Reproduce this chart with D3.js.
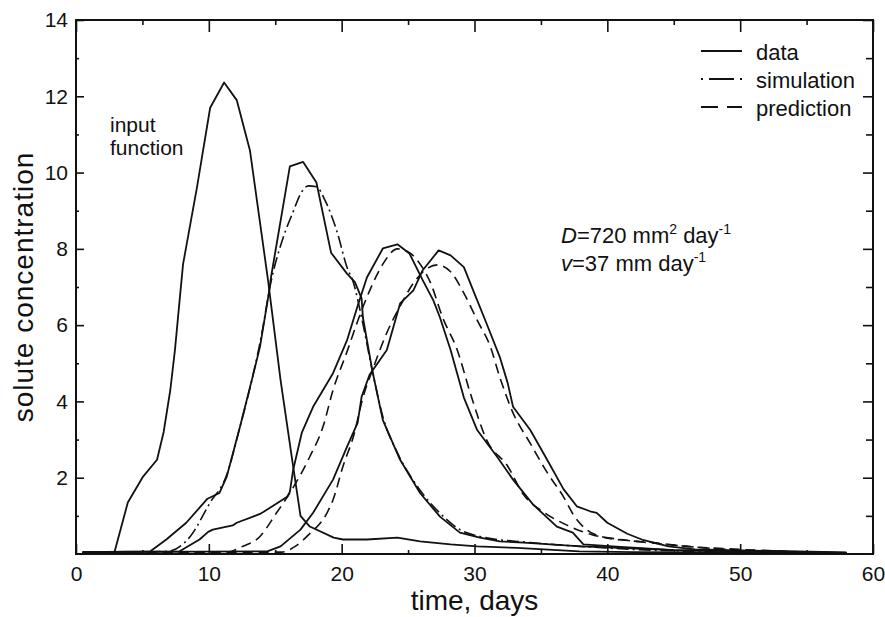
<!DOCTYPE html>
<html>
<head>
<meta charset="utf-8">
<script src="https://cdn.jsdelivr.net/npm/d3@7"></script>
<style>
  body { margin: 0; background: #fff; }
  svg { font-family: "Liberation Sans", Arial, Helvetica, sans-serif; }
  .tick text { font-size: 21px; fill: #111; }
</style>
</head>
<body>
<script>
// breakthrough curves as [day, concentration]
var inputData = [[0.5,0.05],[2.9,0.05],[3.9,1.35],[5.05,2.03],[6.1,2.47],[6.6,3.2],[7.1,4.3],[7.45,5.35],[7.8,6.65],[8.06,7.6],[9.1,9.6],[10.1,11.7],[11.15,12.36],[12.1,11.9],[13.1,10.57],[14.46,7.17],[15.4,4.56],[16.35,2.29],[16.9,1.0],[17.6,0.72],[19.4,0.43],[20.1,0.38],[21.9,0.38],[24.2,0.43],[25.9,0.33],[28.2,0.25],[30.2,0.2],[33.2,0.16],[37.9,0.07],[42,0.05],[58,0.03]];

var data1 = [[0.5,0.05],[5.6,0.07],[6.8,0.38],[8.3,0.82],[9.9,1.45],[10.8,1.6],[11.35,2.03],[12.35,3.34],[13.3,4.65],[13.85,5.43],[14.5,6.8],[14.7,7.3],[16.1,10.16],[17.1,10.28],[18.1,9.74],[19.2,7.9],[20.4,7.35],[21.0,7.13],[21.5,6.7],[21.6,6.2],[22.3,4.82],[23.1,3.51],[24.4,2.47],[25.9,1.6],[27.4,0.98],[28.9,0.56],[30.4,0.43],[31.9,0.33],[33.7,0.3],[38,0.2],[40.4,0.17],[45,0.1],[58,0.03]];

var sim1 = [[0.5,0.03],[6.9,0.07],[8.6,0.46],[10.1,1.35],[11.3,2.03],[12.35,3.34],[13.3,4.65],[14.0,5.8],[14.6,7.0],[15.6,8.3],[16.3,8.93],[17.0,9.5],[17.5,9.65],[18.1,9.63],[18.75,9.27],[19.65,8.45],[20.4,7.52],[20.9,7.1],[21.5,6.2],[22.3,4.82],[23.1,3.6],[24.2,2.65],[25.7,1.77],[27.4,1.07],[28.9,0.64],[30.4,0.46],[34.2,0.3],[38,0.2],[42,0.12],[48,0.06],[58,0.03]];

var data2 = [[0.5,0.05],[7.8,0.07],[9.3,0.38],[9.95,0.58],[10.3,0.64],[11.8,0.75],[12.1,0.82],[13.85,1.05],[14.1,1.1],[15.9,1.5],[16.1,1.63],[16.35,2.21],[17.0,3.18],[17.85,3.86],[19.35,4.74],[20.4,5.6],[21.2,6.5],[21.9,7.25],[23.1,8.01],[24.2,8.12],[25.1,7.88],[26.1,7.18],[26.9,6.65],[27.4,6.2],[28.2,5.35],[29.2,4.1],[30.2,3.25],[31.7,2.55],[32.9,1.95],[34.4,1.3],[36.2,0.72],[37.4,0.56],[38.2,0.25],[40.4,0.2],[45,0.1],[58,0.03]];

var pred2 = [[0.5,0.02],[11.5,0.05],[12.35,0.17],[13.85,0.46],[15.1,1.08],[16.1,1.6],[17.6,2.55],[18.6,3.34],[19.35,4.3],[20.4,5.3],[21.2,6.1],[22.1,6.9],[23.1,7.6],[24.2,8.0],[25.1,7.9],[26.1,7.5],[26.7,7.1],[27.6,6.2],[28.7,5.35],[29.7,4.2],[30.9,3.0],[32.5,2.3],[33.7,1.55],[35.2,1.1],[37,0.75],[38.9,0.5],[41,0.38],[43,0.3],[46,0.2],[50,0.1],[55,0.05]];

var data3 = [[0.5,0.05],[14.4,0.07],[15.4,0.2],[16.9,0.64],[17.85,1.08],[19.35,1.95],[20.4,2.81],[21.2,3.44],[21.5,4.12],[22.1,4.7],[23.4,5.35],[24.4,6.57],[25.4,6.91],[26.1,7.44],[27.3,7.96],[28.2,7.83],[29.2,7.52],[29.9,6.91],[30.9,6.05],[31.9,5.17],[32.5,4.48],[32.9,3.86],[34.2,3.25],[35.5,2.45],[36.7,1.7],[37.7,1.25],[38.7,1.12],[39.2,1.08],[40.0,0.82],[41.5,0.53],[42.6,0.38],[44.6,0.2],[46.6,0.12],[58,0.04]];

var pred3 = [[0.5,0.02],[15.5,0.05],[16.5,0.2],[17.5,0.5],[18.9,1.08],[19.35,1.42],[20.1,2.3],[20.9,3.1],[21.6,4.1],[22.4,4.9],[23.4,5.8],[24.4,6.5],[25.4,7.1],[26.3,7.45],[27.2,7.58],[28.2,7.4],[29.2,6.84],[30.2,6.13],[31.2,5.43],[31.9,4.64],[32.9,3.7],[34.2,2.9],[35.5,2.12],[36.7,1.5],[37.5,1.0],[38.5,0.62],[39.6,0.45],[41.6,0.35],[43.4,0.3],[46,0.2],[50,0.12],[55,0.05]];

var xTicks = [0, 10, 20, 30, 40, 50, 60];
var yTicks = [2, 4, 6, 8, 10, 12, 14];
var legendLabels = ["data", "simulation", "prediction"];

var margin = {top: 20, right: 12, bottom: 63, left: 76},
    width = 885 - margin.left - margin.right,
    height = 617 - margin.top - margin.bottom;

var x = d3.scaleLinear().domain([0, 60]).range([0, width]);
var y = d3.scaleLinear().domain([0, 14]).range([height, 0]);

var svg = d3.select("body").append("svg")
    .attr("width", 885).attr("height", 617)
  .append("g")
    .attr("transform", "translate(" + margin.left + "," + margin.top + ")");

var line = d3.line().x(function(d) { return x(d[0]); }).y(function(d) { return y(d[1]); });
var smooth = d3.line().curve(d3.curveMonotoneX).x(function(d) { return x(d[0]); }).y(function(d) { return y(d[1]); });

var dashDot = "12,4,2,4", dashed = "10,6";

// axes, all ticks point inward
svg.append("g").attr("transform", "translate(0," + height + ")")
    .call(d3.axisBottom(x).tickValues(xTicks).tickSizeInner(-10).tickSizeOuter(0).tickPadding(12));
svg.append("g").attr("transform", "translate(0," + height + ")")
    .call(d3.axisBottom(x).tickValues([5, 15, 25, 35, 45, 55]).tickSizeInner(-4).tickSizeOuter(0).tickFormat(""));
svg.append("g")
    .call(d3.axisTop(x).tickValues(xTicks).tickSizeInner(-12).tickSizeOuter(0).tickFormat(""));
svg.append("g")
    .call(d3.axisTop(x).tickValues([5, 15, 25, 35, 45, 55]).tickSizeInner(-5).tickSizeOuter(0).tickFormat(""));
svg.append("g")
    .call(d3.axisLeft(y).tickValues(yTicks).tickSizeInner(-8).tickSizeOuter(0).tickPadding(8));
svg.append("g")
    .call(d3.axisLeft(y).tickValues([1, 3, 5, 7, 9, 11, 13]).tickSizeInner(-3).tickSizeOuter(0).tickFormat(""));
svg.append("g").attr("transform", "translate(" + width + ",0)")
    .call(d3.axisRight(y).tickValues(yTicks).tickSizeInner(-10).tickSizeOuter(0).tickFormat(""));
svg.append("g").attr("transform", "translate(" + width + ",0)")
    .call(d3.axisRight(y).tickValues([1, 3, 5, 7, 9, 11, 13]).tickSizeInner(-7).tickSizeOuter(0).tickFormat(""));

svg.selectAll(".domain").remove();
svg.selectAll(".tick line").attr("stroke", "#111").attr("stroke-width", 1.6);

svg.append("rect").attr("width", width).attr("height", height)
    .attr("fill", "none").attr("stroke", "#111").attr("stroke-width", 2);

// curves
var solids = [inputData, data1, data2, data3];
solids.forEach(function(s) {
    svg.append("path").datum(s).attr("d", line)
        .attr("fill", "none").attr("stroke", "#111").attr("stroke-width", 1.8).attr("stroke-linejoin", "round");
});
svg.append("path").datum(sim1).attr("d", smooth)
    .attr("fill", "none").attr("stroke", "#111").attr("stroke-width", 1.6).attr("stroke-dasharray", dashDot);
[pred2, pred3].forEach(function(s) {
    svg.append("path").datum(s).attr("d", smooth)
        .attr("fill", "none").attr("stroke", "#111").attr("stroke-width", 1.6).attr("stroke-dasharray", dashed);
});

// legend
var legendStyles = [null, "2,6,25,6,2", "17,9,15"];
var legend = svg.append("g").attr("transform", "translate(" + (701 - margin.left) + "," + (51 - margin.top) + ")");
legendLabels.forEach(function(lbl, i) {
    var row = legend.append("g").attr("transform", "translate(0," + (i * 28) + ")");
    row.append("line").attr("x1", 0).attr("x2", 41).attr("y1", 0).attr("y2", 0)
        .attr("stroke", "#111").attr("stroke-width", 2)
        .attr("stroke-dasharray", legendStyles[i]);
    row.append("text").attr("x", 55).attr("y", 9).attr("font-size", 22).attr("fill", "#111").text(lbl);
});

// annotations
svg.append("text").attr("x", 110 - margin.left).attr("y", 132 - margin.top)
    .attr("font-size", 21).attr("fill", "#111").text("input");
svg.append("text").attr("x", 110 - margin.left).attr("y", 155 - margin.top)
    .attr("font-size", 21).attr("fill", "#111").text("function");

var ann1 = svg.append("text").attr("x", 561 - margin.left).attr("y", 243 - margin.top)
    .attr("font-size", 22).attr("fill", "#111");
ann1.append("tspan").attr("font-style", "italic").text("D");
ann1.append("tspan").text("=720 mm");
ann1.append("tspan").attr("font-size", 14).attr("dy", -9).text("2");
ann1.append("tspan").attr("dy", 9).text(" day");
ann1.append("tspan").attr("font-size", 14).attr("dy", -9).text("-1");

var ann2 = svg.append("text").attr("x", 561 - margin.left).attr("y", 271 - margin.top)
    .attr("font-size", 22).attr("fill", "#111");
ann2.append("tspan").attr("font-style", "italic").text("v");
ann2.append("tspan").text("=37 mm day");
ann2.append("tspan").attr("font-size", 14).attr("dy", -9).text("-1");

// axis titles
svg.append("text").attr("x", width / 2).attr("y", 610 - margin.top)
    .attr("text-anchor", "middle").attr("font-size", 28).attr("fill", "#111").text("time, days");
svg.append("text").attr("transform", "translate(" + (33 - margin.left) + "," + (height / 2) + ") rotate(-90)")
    .attr("text-anchor", "middle").attr("font-size", 28).attr("letter-spacing", 1).attr("fill", "#111")
    .text("solute concentration");
</script>
</body>
</html>
